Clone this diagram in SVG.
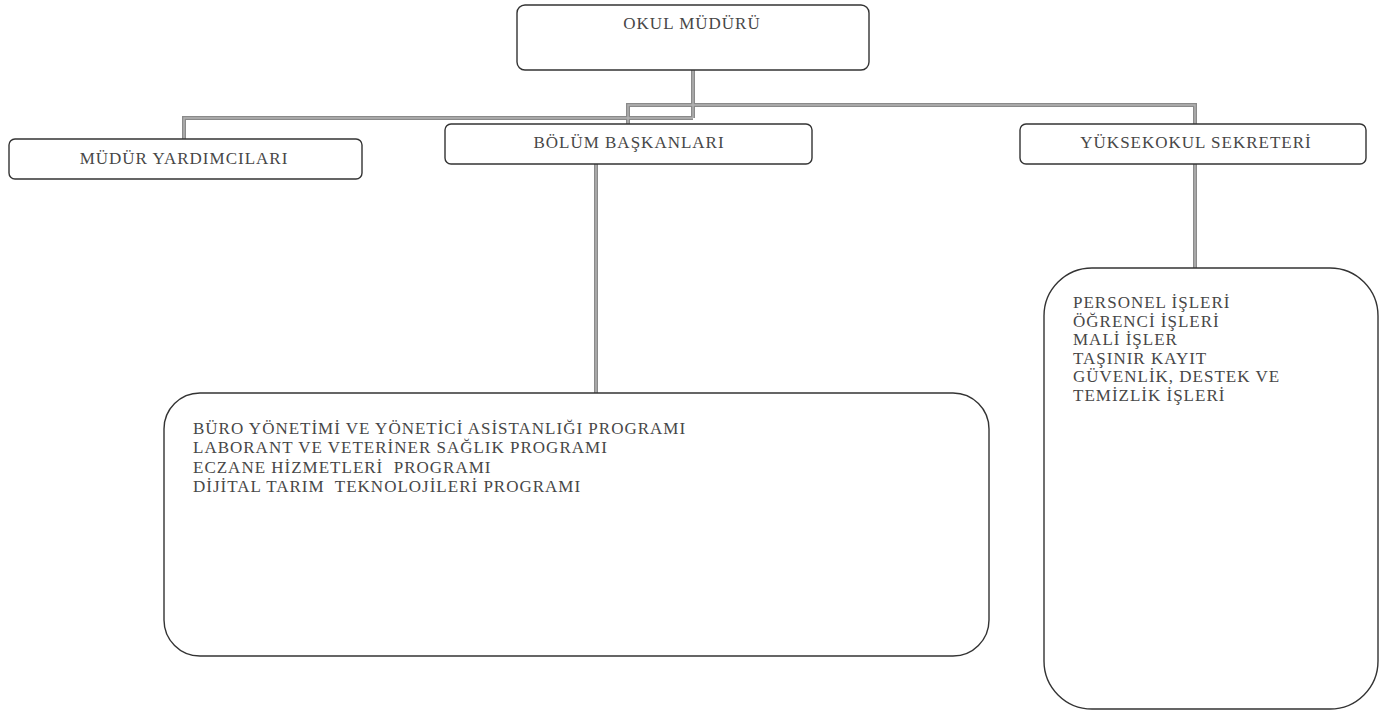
<svg xmlns="http://www.w3.org/2000/svg" width="1389" height="716" viewBox="0 0 1389 716">
<style>
.box{fill:#ffffff;stroke:#333333;stroke-width:1.4}
.t{font-family:"Liberation Serif","Times New Roman",serif;font-size:17px;fill:#474747;letter-spacing:1px}
.c{text-anchor:middle}
.conn{fill:none;stroke:#8a8a8a;stroke-width:4;stroke-linejoin:miter}
.conn2{fill:none;stroke:#b4b4b4;stroke-width:1.4}
</style>
<rect width="1389" height="716" fill="#ffffff"/>
<g id="connectors">
<path class="conn" d="M693 70 V118 M184 139 V118 H693 M628 124 V105 H1195 V124 M596 164 V393 M1195 164 V268"/>
<path class="conn2" d="M693 70 V118 M184 139 V118 H693 M628 124 V105 H1195 V124 M596 164 V393 M1195 164 V268"/>
</g>
<g id="okul-muduru">
<rect class="box" x="517" y="5" width="352" height="65" rx="8"/>
<text class="t c" x="692" y="29">OKUL MÜDÜRÜ</text>
</g>
<g id="mudur-yardimcilari">
<rect class="box" x="9" y="139" width="353" height="40" rx="6"/>
<text class="t c" x="184" y="164">MÜDÜR YARDIMCILARI</text>
</g>
<g id="bolum-baskanlari">
<rect class="box" x="445" y="124" width="367" height="40" rx="6"/>
<text class="t c" x="629" y="148">BÖLÜM BAŞKANLARI</text>
</g>
<g id="yuksekokul-sekreteri">
<rect class="box" x="1020" y="124" width="346" height="40" rx="6"/>
<text class="t c" x="1196" y="148">YÜKSEKOKUL SEKRETERİ</text>
</g>
<g id="programlar">
<rect class="box" x="164" y="393" width="825" height="263" rx="36"/>
<text class="t" x="193" y="434">BÜRO YÖNETİMİ VE YÖNETİCİ ASİSTANLIĞI PROGRAMI</text>
<text class="t" x="193" y="453.3">LABORANT VE VETERİNER SAĞLIK PROGRAMI</text>
<text class="t" x="193" y="472.6">ECZANE HİZMETLERİ&#160; PROGRAMI</text>
<text class="t" x="193" y="492">DİJİTAL TARIM&#160; TEKNOLOJİLERİ PROGRAMI</text>
</g>
<g id="isler">
<rect class="box" x="1044" y="268" width="334" height="441" rx="48"/>
<text class="t" x="1073" y="308">PERSONEL İŞLERİ</text>
<text class="t" x="1073" y="326.5">ÖĞRENCİ İŞLERİ</text>
<text class="t" x="1073" y="345">MALİ İŞLER</text>
<text class="t" x="1073" y="363.5">TAŞINIR KAYIT</text>
<text class="t" x="1073" y="382">GÜVENLİK, DESTEK VE</text>
<text class="t" x="1073" y="400.5">TEMİZLİK İŞLERİ</text>
</g>
</svg>
